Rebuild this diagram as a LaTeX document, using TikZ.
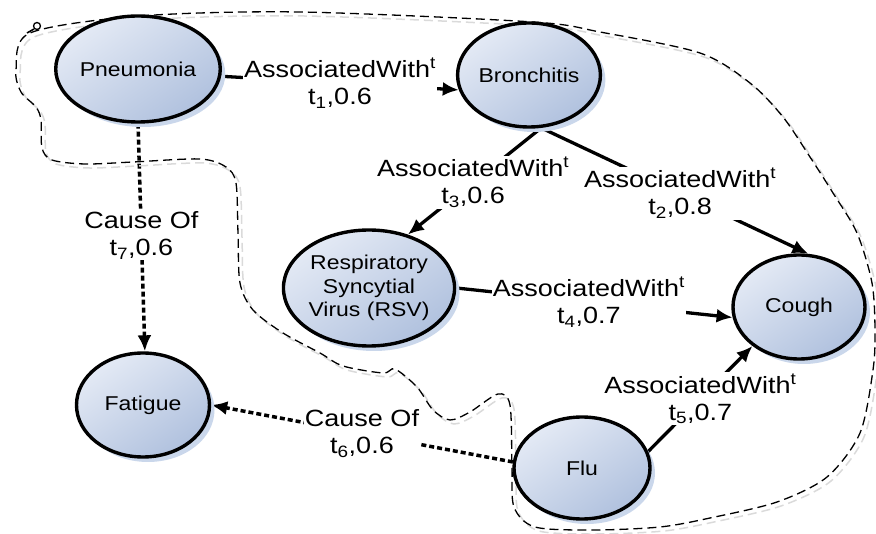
\documentclass[tikz,border=0pt]{standalone}
\usepackage{fontspec}
\setmainfont[FakeStretch=1.15]{Liberation Sans}
\usetikzlibrary{arrows.meta,shapes.geometric,shadows}
\definecolor{nfillA}{HTML}{E4EAF5}
\definecolor{nfillB}{HTML}{B0C1DE}
\definecolor{nshadow}{HTML}{CAD7EB}
\definecolor{oshadow}{HTML}{DADADA}
\pgfdeclarelayer{edgelayer}
\pgfsetlayers{edgelayer,main}
\begin{document}
\begin{tikzpicture}[x=1pt,y=-1pt,
  ent/.style={ellipse,draw=black,line width=3.4pt,inner sep=0pt,align=center,
    font=\fontsize{20}{23.5}\selectfont,top color=nfillA,bottom color=nfillB,shading angle=35,
    drop shadow={shadow xshift=5pt,shadow yshift=-5pt,fill=nshadow,opacity=1}},
  lbl/.style={fill=white,inner sep=1pt,align=center,font=\fontsize{23.5}{27}\selectfont},
  assoc/.style={line width=3.3pt,-{Latex[length=16pt,width=14pt]}},
  cause/.style={line width=3.5pt,dash pattern=on 5pt off 3pt,-{Latex[length=16pt,width=14pt]}},
  outline/.style={line width=1.3pt,dash pattern=on 9pt off 5pt},
  outshadow/.style={line width=1.5pt,draw=oshadow,dash pattern=on 9pt off 5pt}]
\useasboundingbox (0,0) rectangle (876,534);
% region outline
\def\outlinepts{(30,33) (140,16) (300,12) (533,22) (600,32) (700,53) (750,83) (783,117) (810,157) (833,193) (857,233) (872,283) (875,330) (873,370) (860,433) (827,477) (777,502) (710,518) (660,527) (593,530) (535,527) (514,507) (512,467) (510,405) (498,394) (470,412) (450,420) (433,410) (417,387) (395,369) (383,373) (343,366) (320,353) (283,333) (253,310) (240,283) (238,233) (236,183) (226,167) (200,159) (133,162) (85,164) (52,160) (42,148) (41,120) (36,107) (21,92) (16,70)}
\draw[outshadow,shift={(4,4)}] plot[smooth cycle,tension=0.5] coordinates {\outlinepts};
\draw[outline] plot[smooth cycle,tension=0.5] coordinates {\outlinepts};
\draw[line width=1.3pt] (37,26) circle (3.5);
\draw[line width=1.6pt] (34,29) -- (27,33);
% nodes
\node[ent,minimum width=132,minimum height=106] (pn) at (138,69) {Pneumonia};
\node[ent,minimum width=114,minimum height=104] (br) at (529,75) {Bronchitis};
\node[ent,minimum width=148,minimum height=116] (rsv) at (369,288) {Respiratory\\Syncytial\\Virus (RSV)};
\node[ent,minimum width=132,minimum height=104] (co) at (799,307) {Cough};
\node[ent,minimum width=133,minimum height=104] (fa) at (143,405) {Fatigue};
\node[ent,minimum width=136,minimum height=102] (flu) at (582,468) {Flu};
% edges
\begin{pgfonlayer}{edgelayer}
\draw[assoc] (pn.-5) -- node[lbl,pos=0.5]{AssociatedWith\textsuperscript{t}\\t\textsubscript{1},0.6} (br.-168);
\draw[assoc] (br.-77) -- node[lbl,pos=0.52]{AssociatedWith\textsuperscript{t}\\t\textsubscript{2},0.8} (co.80);
\draw[assoc] (br.-77) -- node[lbl,pos=0.51]{AssociatedWith\textsuperscript{t}\\t\textsubscript{3},0.6} (rsv.54);
\draw[assoc] (rsv.0) -- node[lbl,pos=0.48]{AssociatedWith\textsuperscript{t}\\t\textsubscript{4},0.7} (co.-171);
\draw[assoc] (flu.14) -- node[lbl,pos=0.5]{AssociatedWith\textsuperscript{t}\\t\textsubscript{5},0.7} (co.-140);
\draw[cause] (flu.175) -- node[lbl,pos=0.5]{Cause Of\\t\textsubscript{6},0.6} (fa.0);
\draw[cause] (pn.-90) -- node[lbl,pos=0.49]{Cause Of\\t\textsubscript{7},0.6} (fa.88);
\end{pgfonlayer}
\end{tikzpicture}
\end{document}
